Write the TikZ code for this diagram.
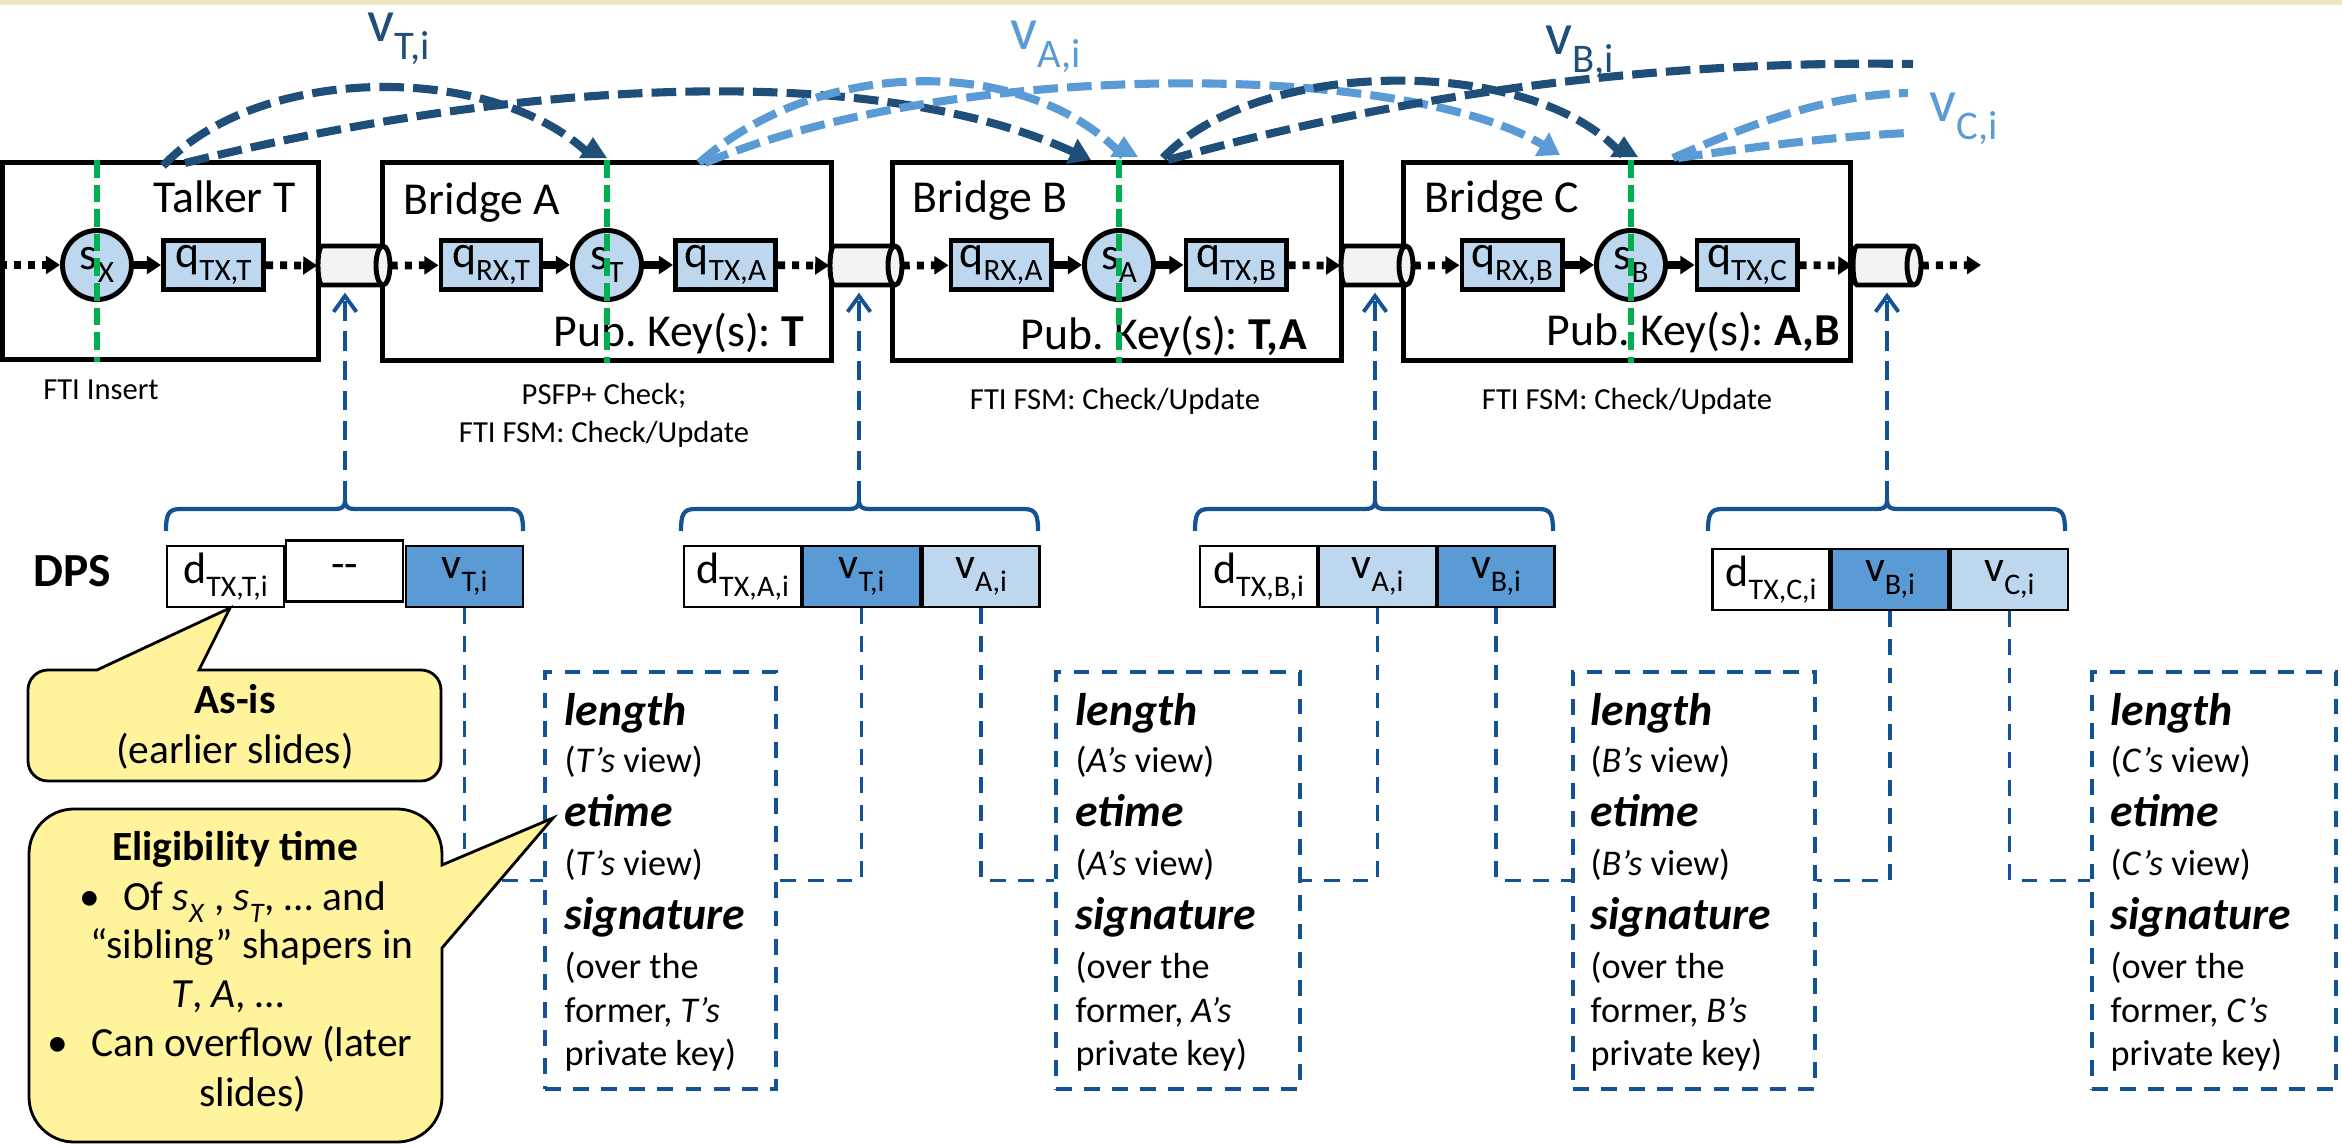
\documentclass[tikz,border=0pt]{standalone}
\usepackage{fontspec}
\setmainfont{Carlito}
\usetikzlibrary{arrows.meta}
\definecolor{darkv}{RGB}{31,78,121}
\definecolor{lightv}{RGB}{91,155,213}
\definecolor{qfill}{RGB}{189,215,238}
\definecolor{connc}{RGB}{20,82,150}
\definecolor{grn}{RGB}{0,176,80}
\definecolor{callout}{RGB}{255,243,156}
\definecolor{stripe}{RGB}{240,228,194}
\definecolor{cylfill}{RGB}{242,242,242}
\newcommand{\sbs}[1]{\raisebox{-0.3em}{\scalebox{0.68}{#1}}}
\newcommand{\infotext}[3]{%
  \node[kw] (#1-1) at (#2,725) {length};
  \node[nt] (#1-2) at (#2,772) {(\textit{#3’s} view)};
  \node[kw] (#1-3) at (#2,826) {etime};
  \node[nt] (#1-4) at (#2,875) {(\textit{#3’s} view)};
  \node[kw] (#1-5) at (#2,929) {signature};
  \node[nt] (#1-6) at (#2,978) {(over the};
  \node[nt] (#1-7) at (#2,1022) {former, \textit{#3’s}};
  \node[nt] (#1-8) at (#2,1065) {private key)};
}
\newcommand{\cable}[3]{% name, left x, right ellipse centre x
  \draw[line width=1.4pt, fill=cylfill] ({#2+4},246) -- (#3,246)
    arc[start angle=-90,end angle=90,x radius=7,y radius=19.5] -- ({#2+4},285)
    arc[start angle=90,end angle=270,x radius=4,y radius=19.5] -- cycle;
  \draw[line width=1.4pt] (#3,246) arc[start angle=-90,end angle=-270,x radius=7,y radius=19.5];
  \node[inner sep=0, minimum width={(#3+7-#2)*0.01cm}, minimum height=0.39cm] (#1) at ({(#2+#3+7)/2},265.5) {};
}
\newcommand{\dpsbrace}[4]{% name, L, R, M
  \draw[bracesty] (#2,531) .. controls (#2,515) and ({#2+2},509) .. ({#2+14},509)
    -- ({#4-10},509) .. controls ({#4-3},509) and (#4,507) .. (#4,500)
    .. controls (#4,507) and ({#4+3},509) .. ({#4+10},509)
    -- ({#3-14},509) .. controls ({#3-2},509) and (#3,515) .. (#3,531);
  \coordinate (#1) at (#4,500);
}
\frenchspacing
\begin{document}
\begin{tikzpicture}[x=0.01cm,y=-0.01cm,
  frame/.style={draw, line width=1.4pt, inner sep=0},
  queue/.style={draw, line width=1.4pt, fill=qfill, inner sep=0, minimum width=1.0cm, minimum height=0.49cm, font=\fontsize{13}{15}\selectfont},
  shaper/.style={circle, draw, line width=1.4pt, fill=qfill, inner sep=0, minimum size=0.69cm, font=\fontsize{13}{15}\selectfont},
  field/.style={draw, line width=0.7pt, inner sep=0, minimum width=1.17cm, minimum height=0.61cm, font=\fontsize{12.5}{14}\selectfont},
  big/.style={inner sep=0, anchor=base west, font=\fontsize{13}{15}\selectfont},
  small/.style={inner sep=0, anchor=base, font=\fontsize{8.7}{10}\selectfont},
  vlbl/.style={inner sep=0, anchor=base west, font=\fontsize{17}{19}\selectfont},
  kw/.style={inner sep=0, anchor=base west, font=\fontsize{13}{15}\selectfont\bfseries\itshape},
  nt/.style={inner sep=0, anchor=base west, font=\fontsize{10.3}{12}\selectfont},
  ctext/.style={inner sep=0, anchor=base, font=\fontsize{11.8}{14}\selectfont},
  dotarrow/.style={line width=2.2pt, dash pattern=on 2pt off 2pt, -{Triangle[length=4pt,width=5pt]}},
  solarrow/.style={line width=2pt, -{Triangle[length=4pt,width=5pt]}},
  greenline/.style={grn, line width=1.9pt, dash pattern=on 5pt off 2pt},
  varc/.style={#1, line width=2.3pt, dash pattern=on 7pt off 2.6pt},
  vtip/.style={-{Triangle[length=6pt,width=7.5pt]}},
  bracesty/.style={connc, line width=1.2pt},
  upconn/.style={connc, line width=1.1pt, dash pattern=on 5.5pt off 3pt, -{Straight Barb[length=4.5pt,width=6.5pt]}},
  connsty/.style={connc, line width=1.1pt, dash pattern=on 4.5pt off 3.5pt},
  infobox/.style={draw=connc, line width=1.1pt, dash pattern=on 4.5pt off 3.5pt, inner sep=0},
  callsty/.style={draw, line width=0.8pt, fill=callout}
]
\useasboundingbox (0,0) rectangle (2342,1146);
\fill[stripe] (0,0) rectangle (2342,5);

% frames
\node[frame, minimum width=3.16cm, minimum height=1.97cm] (talker) at (160.5,261) {};
\node[frame, minimum width=4.49cm, minimum height=1.98cm] (bA) at (607,261.5) {};
\node[frame, minimum width=4.49cm, minimum height=1.98cm] (bB) at (1117,261.5) {};
\node[frame, minimum width=4.47cm, minimum height=1.98cm] (bC) at (1627,261.5) {};

\node[big] (tT) at (153,213) {Talker T};
\node[big] (tA) at (403,215) {Bridge A};
\node[big] (tB) at (912,213) {Bridge B};
\node[big] (tC) at (1424,213) {Bridge C};
\node[big] (pkA) at (553,347) {Pub. Key(s): \textbf{T}};
\node[big] (pkB) at (1020,350) {Pub. Key(s): \textbf{T,A}};
\node[big] (pkC) at (1546,346) {Pub. Key(s): \textbf{A,B}};

% cables
\cable{cyl1}{318}{383}
\cable{cyl2}{830}{895}
\cable{cyl3}{1341}{1406}
\cable{cyl4}{1853}{1914}

% shapers and queues
\node[shaper] (sX) at (97,265) {s\sbs{X}};
\node[queue] (qTXT) at (213.5,265) {q\sbs{TX,T}};
\node[queue] (qRXT) at (491,265) {q\sbs{RX,T}};
\node[shaper] (sT) at (607,265) {s\sbs{T}};
\node[queue] (qTXA) at (725.5,265) {q\sbs{TX,A}};
\node[queue] (qRXA) at (1001,265) {q\sbs{RX,A}};
\node[shaper] (sA) at (1119,265) {s\sbs{A}};
\node[queue] (qTXB) at (1236,265) {q\sbs{TX,B}};
\node[queue] (qRXB) at (1512,265) {q\sbs{RX,B}};
\node[shaper] (sB) at (1631,265) {s\sbs{B}};
\node[queue] (qTXC) at (1747,265) {q\sbs{TX,C}};
\coordinate (in0) at (0,265);
\coordinate (out0) at (1981,265);

\draw[dotarrow] (in0) -- (sX);
\draw[solarrow] (sX) -- (qTXT);
\draw[dotarrow] (qTXT) -- (cyl1.west);
\draw[dotarrow] (cyl1.east) -- (qRXT);
\draw[solarrow] (qRXT) -- (sT);
\draw[solarrow] (sT) -- (qTXA);
\draw[dotarrow] (qTXA) -- (cyl2.west);
\draw[dotarrow] (cyl2.east) -- (qRXA);
\draw[solarrow] (qRXA) -- (sA);
\draw[solarrow] (sA) -- (qTXB);
\draw[dotarrow] (qTXB) -- (cyl3.west);
\draw[dotarrow] (cyl3.east) -- (qRXB);
\draw[solarrow] (qRXB) -- (sB);
\draw[solarrow] (sB) -- (qTXC);
\draw[dotarrow] (qTXC) -- (cyl4.west);
\draw[dotarrow] (cyl4.east) -- (out0);

% green lines
\draw[greenline] (sX |- talker.north) -- (sX |- talker.south);
\draw[greenline] (sT |- bA.north) -- (sT |- bA.south);
\draw[greenline] (sA |- bB.north) -- (sA |- bB.south);
\draw[greenline] (sB |- bC.north) -- (sB |- bC.south);

% labels below frames
\node[small] (lX) at (101,400) {FTI Insert};
\node[small] (lT1) at (604,405) {PSFP+ Check;};
\node[small] (lT2) at (604,443) {FTI FSM: Check/Update};
\node[small] (lA) at (1115,410) {FTI FSM: Check/Update};
\node[small] (lB) at (1627,410) {FTI FSM: Check/Update};

% top arcs
\coordinate (vTs) at (163,166); \coordinate (vTs2) at (185,163);
\coordinate (vTe1) at (593,158); \coordinate (vTe2) at (1091,160);
\coordinate (vAs) at (699,163); \coordinate (vAs2) at (705,163);
\coordinate (vAe1) at (1124,157); \coordinate (vAe2) at (1560,155);
\coordinate (vBs) at (1163,158); \coordinate (vBs2) at (1168,160);
\coordinate (vBe1) at (1624,157); \coordinate (vBe2) at (1913,64);
\coordinate (vCs) at (1673,158); \coordinate (vCs2) at (1678,158);
\coordinate (vCe1) at (1908,93); \coordinate (vCe2) at (1908,133);
\draw[varc=darkv, vtip] (vTs) .. controls (260,62) and (500,62) .. (vTe1) -- ++(0,-21);
\draw[varc=darkv, vtip] (vTs2) .. controls (520,80) and (870,60) .. (vTe2);
\draw[varc=lightv, vtip] (vAs) .. controls (820,55) and (1030,55) .. (vAe1) -- ++(0,-21);
\draw[varc=lightv, vtip] (vAs2) .. controls (950,60) and (1400,60) .. (vAe2);
\draw[varc=darkv, vtip] (vBs) .. controls (1260,55) and (1540,55) .. (vBe1) -- ++(0,-21);
\draw[varc=darkv] (vBs2) .. controls (1400,95) and (1650,60) .. (vBe2);
\draw[varc=lightv] (vCs) .. controls (1760,120) and (1830,95) .. (vCe1);
\draw[varc=lightv] (vCs2) .. controls (1760,146) and (1840,136) .. (vCe2);
\node[vlbl, text=darkv] (lvT) at (367,42) {v\sbs{T,i}};
\node[vlbl, text=lightv] (lvA) at (1010,50) {v\sbs{A,i}};
\node[vlbl, text=darkv] (lvB) at (1545,55) {v\sbs{B,i}};
\node[vlbl, text=lightv] (lvC) at (1929,122) {v\sbs{C,i}};

% DPS rows
\node[inner sep=0, anchor=base west, font=\fontsize{13.5}{15}\selectfont\bfseries] (dps) at (33,587) {DPS};
\node[field] (f1d) at (225.5,576.5) {d\sbs{TX,T,i}};
\node[field] (f1x) at (344.5,571) {{-}{-}};
\node[field, fill=lightv] (f1v) at (464.5,576.5) {v\sbs{T,i}};
\node[field] (f2d) at (742.5,576.5) {d\sbs{TX,A,i}};
\node[field, fill=lightv] (f2vT) at (861.5,576.5) {v\sbs{T,i}};
\node[field, fill=qfill] (f2vA) at (981,576.5) {v\sbs{A,i}};
\node[field] (f3d) at (1258.5,576.5) {d\sbs{TX,B,i}};
\node[field, fill=qfill] (f3vA) at (1377.5,576.5) {v\sbs{A,i}};
\node[field, fill=lightv] (f3vB) at (1496,576.5) {v\sbs{B,i}};
\node[field] (f4d) at (1771,579.5) {d\sbs{TX,C,i}};
\node[field, fill=lightv] (f4vB) at (1890,579.5) {v\sbs{B,i}};
\node[field, fill=qfill] (f4vC) at (2009.5,579.5) {v\sbs{C,i}};

\dpsbrace{br1}{166}{523}{345}
\dpsbrace{br2}{681}{1038}{859}
\dpsbrace{br3}{1195}{1553}{1375}
\dpsbrace{br4}{1708}{2065}{1887}
\draw[upconn, shorten >=0.07cm] (br1) -- (br1 |- cyl1.south);
\draw[upconn, shorten >=0.07cm] (br2) -- (br2 |- cyl2.south);
\draw[upconn, shorten >=0.07cm] (br3) -- (br3 |- cyl3.south);
\draw[upconn, shorten >=0.07cm] (br4) -- (br4 |- cyl4.south);

% info boxes
\node[infobox, minimum width=2.31cm, minimum height=4.17cm] (ib1) at (660.5,880.5) {};
\node[infobox, minimum width=2.44cm, minimum height=4.17cm] (ib2) at (1178,880.5) {};
\node[infobox, minimum width=2.42cm, minimum height=4.17cm] (ib3) at (1694,880.5) {};
\node[infobox, minimum width=2.44cm, minimum height=4.17cm] (ib4) at (2214,880.5) {};
\infotext{i1}{564}{T}
\infotext{i2}{1075}{A}
\infotext{i3}{1590}{B}
\infotext{i4}{2110}{C}

\draw[connsty] (f1v.south) |- (ib1.west);
\draw[connsty] (f2vT.south) |- (ib1.east);
\draw[connsty] (f2vA.south) |- (ib2.west);
\draw[connsty] (f3vA.south) |- (ib2.east);
\draw[connsty] (f3vB.south) |- (ib3.west);
\draw[connsty] (f4vB.south) |- (ib3.east);
\draw[connsty] (f4vC.south) |- (ib4.west);

% callouts
\draw[callsty] (97,670) -- (230,608) -- (199,670) -- (421,670)
  arc[start angle=-90,end angle=0,radius=20] -- (441,761)
  arc[start angle=0,end angle=90,radius=20] -- (48,781)
  arc[start angle=90,end angle=180,radius=20] -- (28,690)
  arc[start angle=180,end angle=270,radius=20] -- cycle;
\node[ctext] (ca1) at (235,713) {\textbf{As-is}};
\node[ctext] (ca2) at (235,763) {(earlier slides)};

\draw[callsty] (442,948) -- (553,818) -- (442,865) -- (442,854)
  arc[start angle=0,end angle=-90,radius=45] -- (74,809)
  arc[start angle=-90,end angle=-180,radius=45] -- (29,1097)
  arc[start angle=180,end angle=90,radius=45] -- (397,1142)
  arc[start angle=90,end angle=0,radius=45] -- cycle;
\node[ctext] (cb1) at (235,860) {\textbf{Eligibility time}};
\node[ctext] (cb2) at (233,910) {•\hspace{0.55em}Of \textit{s}\sbs{\textit{X}} , \textit{s}\sbs{\textit{T}}, … and};
\node[ctext] (cb3) at (252,958) {“sibling” shapers in};
\node[ctext] (cb4) at (228,1007) {\textit{T}, \textit{A}, …};
\node[ctext] (cb5) at (230,1056) {•\hspace{0.55em}Can overflow (later};
\node[ctext] (cb6) at (253,1106) {slides)};
\end{tikzpicture}
\end{document}
